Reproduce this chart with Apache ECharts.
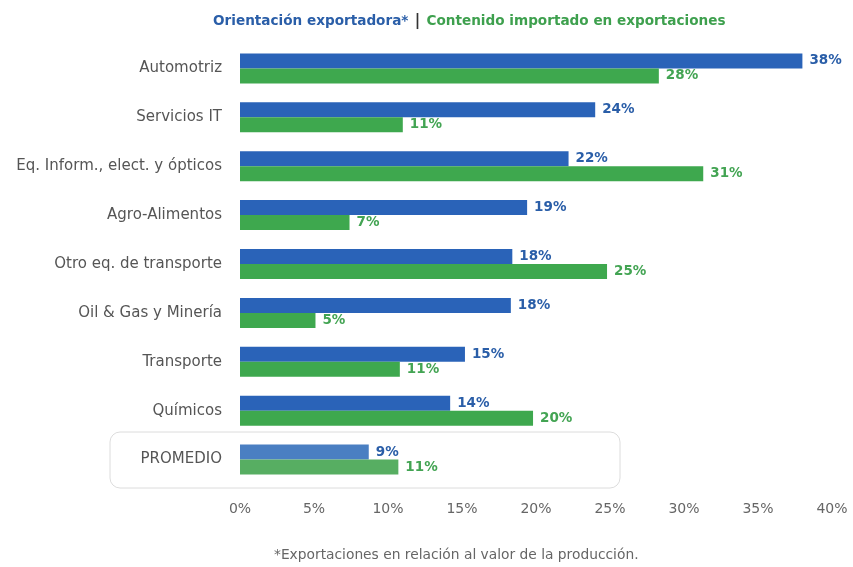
<!DOCTYPE html>
<html>
<head>
<meta charset="utf-8">
<script src="https://cdn.jsdelivr.net/npm/echarts@6/dist/echarts.min.js"></script>
<style>
  html, body { margin: 0; padding: 0; background: #fff; }
  #main { width: 853px; height: 567px; }
</style>
</head>
<body>
<div id="main"></div>
<script>
// categorias y valores (%)
const categories = ['Automotriz', 'Servicios IT', 'Eq. Inform., elect. y ópticos', 'Agro-Alimentos',
  'Otro eq. de transporte', 'Oil & Gas y Minería', 'Transporte', 'Químicos', 'PROMEDIO'];
const orientacion = [38, 24, 22.2, 19.4, 18.4, 18.3, 15.2, 14.2, 8.7];
const contenido = [28.3, 11, 31.3, 7.4, 24.8, 5.1, 10.8, 19.8, 10.7];
const tickLabels = ['0%', '5%', '10%', '15%', '20%', '25%', '30%', '35%', '40%'];

const blue = '#2a63b8', green = '#3ea84e';
const blueLight = '#4a7fc2', greenLight = '#57ae62';
const last = categories.length - 1;
const font = 'DejaVu Sans';

function toData(arr, light) {
  return arr.map(function (v, i) {
    return i === last ? { value: v, itemStyle: { color: light } } : v;
  });
}

const chart = echarts.init(document.getElementById('main'));
const option = {
  animation: false,
  textStyle: { fontFamily: font },
  title: {
    text: '{b|Orientación exportadora*} {s||} {g|Contenido importado en exportaciones}',
    left: 208,
    top: 7,
    textStyle: {
      rich: {
        b: { color: '#2a5ea8', fontSize: 13.6, fontWeight: 'bold', fontFamily: font },
        s: { color: '#333', fontSize: 15, fontWeight: 'bold', fontFamily: font },
        g: { color: '#3ea04e', fontSize: 13.6, fontWeight: 'bold', fontFamily: font }
      }
    }
  },
  graphic: [{
    type: 'rect',
    z: -1,
    shape: { x: 110, y: 432, width: 510, height: 56, r: 10 },
    style: { fill: '#fff', stroke: '#dcdcdc', lineWidth: 1 }
  }, {
    type: 'text',
    left: 274,
    top: 548,
    style: { text: '*Exportaciones en relación al valor de la producción.', fill: '#666', fontSize: 13.8, fontFamily: font }
  }],
  grid: { left: 240, right: 21, top: 44, bottom: 83 },
  xAxis: {
    type: 'value',
    min: 0, max: 40, interval: 5,
    splitLine: { show: false },
    axisLine: { show: false },
    axisTick: { show: false },
    axisLabel: {
      color: '#666', fontSize: 14, margin: 18,
      formatter: function (v) { return tickLabels[v / 5]; }
    }
  },
  yAxis: {
    type: 'category',
    inverse: true,
    data: categories,
    axisLine: { show: false },
    axisTick: { show: false },
    axisLabel: { color: '#555', fontSize: 15, margin: 18 }
  },
  series: [{
    name: 'Orientación exportadora',
    type: 'bar',
    data: toData(orientacion, blueLight),
    barWidth: 15,
    barGap: '0%',
    itemStyle: { color: blue },
    label: {
      show: true, position: 'right', distance: 7,
      color: '#2a5ea8', fontWeight: 'bold', fontSize: 13.5,
      formatter: function (p) { return Math.round(p.value) + '%'; }
    }
  }, {
    name: 'Contenido importado',
    type: 'bar',
    data: toData(contenido, greenLight),
    barWidth: 15,
    itemStyle: { color: green },
    label: {
      show: true, position: 'right', distance: 7,
      color: '#43a453', fontWeight: 'bold', fontSize: 13.5,
      formatter: function (p) { return Math.round(p.value) + '%'; }
    }
  }]
};
chart.setOption(option);
</script>
</body>
</html>
